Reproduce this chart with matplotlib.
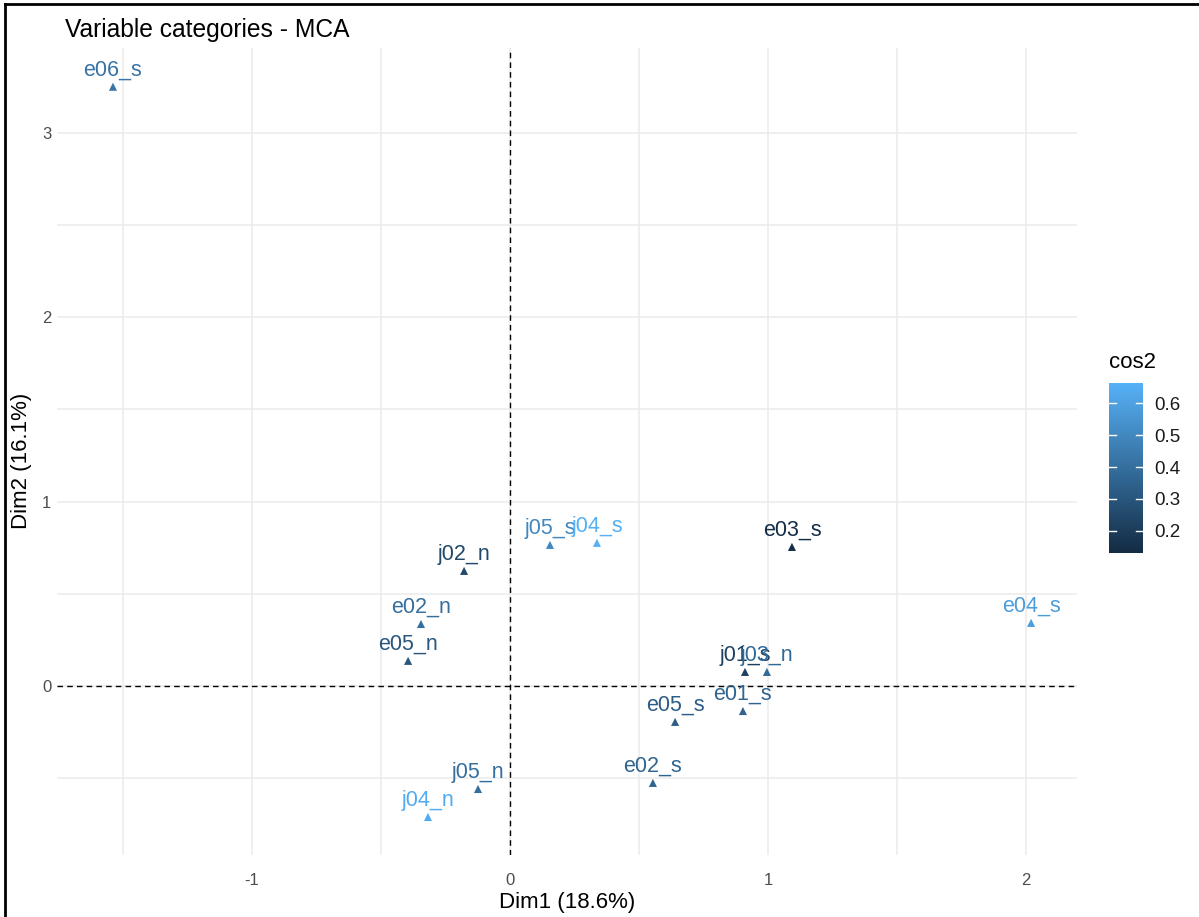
import matplotlib
matplotlib.use("Agg")
import matplotlib.pyplot as plt
import numpy as np
from matplotlib.colors import LinearSegmentedColormap, Normalize
from matplotlib.lines import Line2D

plt.rcParams['font.family'] = ['Liberation Sans', 'DejaVu Sans']
plt.rcParams['axes.unicode_minus'] = False

# MCA variable categories
labels = ['e06_s', 'j05_s', 'j04_s', 'j02_n', 'e02_n', 'e05_n', 'e03_s', 'e04_s',
          'j01_s', 'j03_n', 'e01_s', 'e05_s', 'e02_s', 'j05_n', 'j04_n']
dim1 = [-1.539, 0.155, 0.337, -0.178, -0.345, -0.395, 1.093, 2.020,
        0.911, 0.996, 0.903, 0.640, 0.554, -0.124, -0.318]
dim2 = [3.250, 0.765, 0.776, 0.624, 0.336, 0.136, 0.754, 0.342,
        0.076, 0.076, -0.136, -0.195, -0.526, -0.559, -0.711]
cos2 = [0.42, 0.50, 0.66, 0.25, 0.40, 0.30, 0.14, 0.58,
        0.22, 0.38, 0.36, 0.33, 0.36, 0.40, 0.64]

cmap = LinearSegmentedColormap.from_list('gg', ['#132B43', '#56B1F7'])
norm = Normalize(vmin=0.131, vmax=0.663)

W, H = 1199, 917
fig = plt.figure(figsize=(W / 100, H / 100), dpi=100)
ax = fig.add_axes([57 / W, 1 - 855 / H, (1077 - 57) / W, (855 - 48) / H])

ax.set_xlim(-1.756, 2.198)
ax.set_ylim(-0.917, 3.46)

# grid (major + minor, same look)
for gx in np.arange(-1.5, 2.01, 0.5):
    ax.axvline(gx, color='#EBEBEB', lw=1.1, zorder=0)
for gy in np.arange(-0.5, 3.01, 0.5):
    ax.axhline(gy, color='#EBEBEB', lw=1.1, zorder=0)
ax.axvline(0, color='black', lw=1.0, ls=(0, (4, 3)), zorder=1)
ax.axhline(0, color='black', lw=1.0, ls=(0, (4, 3)), zorder=1)

ax.scatter(dim1, dim2, c=cos2, cmap=cmap, norm=norm, marker='^', s=34,
           linewidths=0, zorder=3)
for lab, x, y, c in zip(labels, dim1, dim2, cos2):
    ax.annotate(lab, (x, y), xytext=(0, 8), textcoords='offset points',
                ha='center', va='baseline', fontsize=15.5, color=cmap(norm(c)),
                zorder=4)

for s in ax.spines.values():
    s.set_visible(False)
ax.set_xticks([-1, 0, 1, 2])
ax.set_yticks([0, 1, 2, 3])
ax.tick_params(axis='x', length=0, labelsize=12, colors='#4D4D4D', pad=13)
ax.tick_params(axis='y', length=0, labelsize=12, colors='#4D4D4D', pad=4)
ax.set_xlabel('Dim1 (18.6%)', fontsize=16, color='black', labelpad=3)
ax.set_ylabel('Dim2 (16.1%)', fontsize=16, color='black')
ax.yaxis.set_label_coords(-0.0245, 0.489)

fig.text(65 / W, 1 - 30 / H, 'Variable categories - MCA', fontsize=17.7,
         ha='left', va='center')

# colourbar
cax = fig.add_axes([1109 / W, 1 - 553 / H, 34 / W, 170 / H])
cb = fig.colorbar(plt.cm.ScalarMappable(norm=norm, cmap=cmap), cax=cax)
cb.outline.set_visible(False)
cb.set_ticks([0.2, 0.3, 0.4, 0.5, 0.6])
cb.ax.tick_params(length=0, labelsize=13.5, colors='#1A1A1A', pad=8)
for t in [0.2, 0.3, 0.4, 0.5, 0.6]:
    cax.plot([0, 0.2], [t, t], color='white', lw=1, transform=cax.get_yaxis_transform())
    cax.plot([0.8, 1], [t, t], color='white', lw=1, transform=cax.get_yaxis_transform())
fig.text(1109 / W, 1 - 362 / H, 'cos2', fontsize=16, ha='left', va='center')

# outer frame (left and top edges)
fig.add_artist(Line2D([5 / W, 5 / W], [0, 1 - 4 / H], color='black', lw=2))
fig.add_artist(Line2D([5 / W, 1], [1 - 4 / H, 1 - 4 / H], color='black', lw=2))

fig.savefig('out.png', dpi=100)
